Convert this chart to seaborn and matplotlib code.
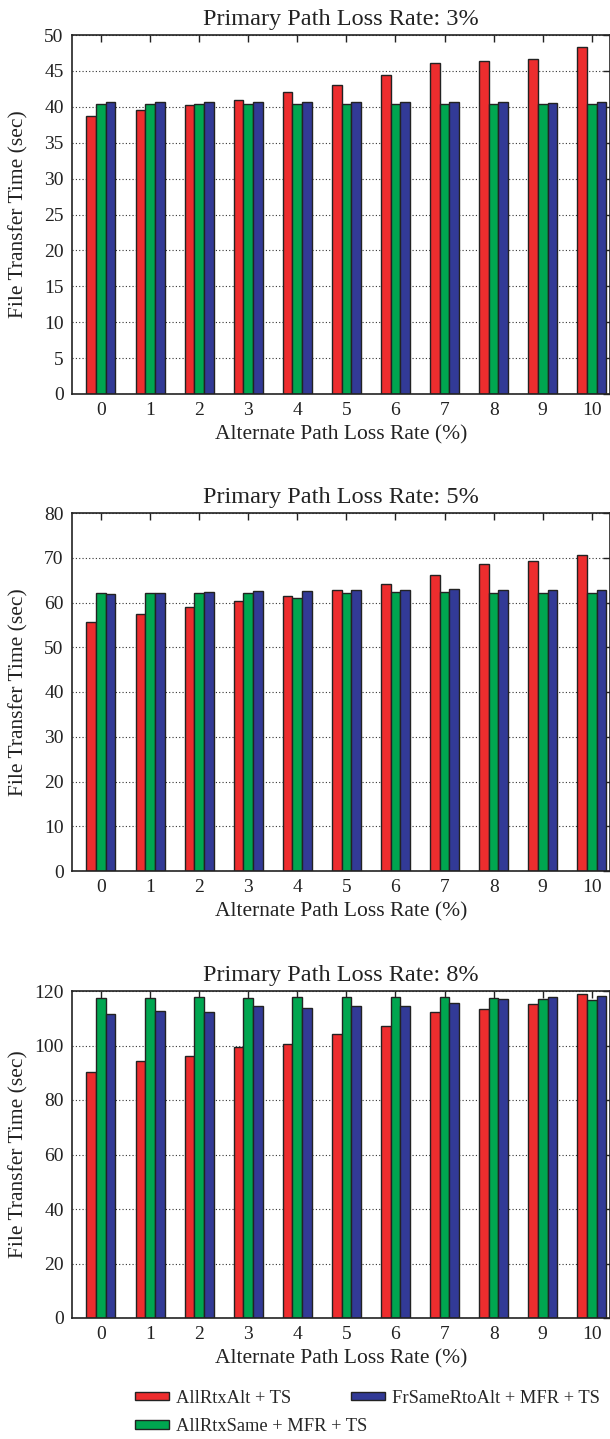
import numpy as np
import pandas as pd
import matplotlib
matplotlib.use("Agg")
import matplotlib.pyplot as plt
import seaborn as sns
from matplotlib.patches import Patch

loss_rates = [0, 1, 2, 3, 4, 5, 6, 7, 8, 9, 10]
schemes = ["AllRtxAlt + TS", "AllRtxSame + MFR + TS", "FrSameRtoAlt + MFR + TS"]
primary_titles = ["Primary Path Loss Rate: 3%", "Primary Path Loss Rate: 5%", "Primary Path Loss Rate: 8%"]

# Primary 3%
p3_alt = [38.7, 39.5, 40.2, 40.9, 42.1, 43.1, 44.4, 46.1, 46.4, 46.7, 48.3]
p3_same = [40.4, 40.4, 40.4, 40.4, 40.4, 40.4, 40.4, 40.4, 40.4, 40.4, 40.4]
p3_fr = [40.6, 40.6, 40.6, 40.6, 40.6, 40.6, 40.6, 40.6, 40.6, 40.5, 40.6]

# Primary 5%
p5_alt = [55.7, 57.4, 58.9, 60.4, 61.5, 62.9, 64.2, 66.1, 68.6, 69.3, 70.7]
p5_same = [62.1, 62.1, 62.1, 62.1, 61.1, 62.1, 62.4, 62.4, 62.2, 62.1, 62.2]
p5_fr = [61.9, 62.1, 62.3, 62.5, 62.6, 62.7, 62.9, 63.0, 62.9, 62.8, 62.7]

# Primary 8%
p8_alt = [90.3, 94.3, 96.1, 99.5, 100.7, 104.4, 107.0, 112.4, 113.4, 115.1, 118.9]
p8_same = [117.5, 117.5, 117.7, 117.5, 117.7, 117.7, 117.7, 117.9, 117.3, 117.1, 116.8]
p8_fr = [111.6, 112.8, 112.3, 114.4, 113.8, 114.4, 114.4, 115.6, 117.1, 117.9, 118.3]

y_limits = [50, 80, 120]
y_steps = [5, 10, 20]

colors = ["#ED2D2E", "#00A650", "#323A96"]
edge = "#222222"

sns.set_style("white")
plt.rcParams["font.family"] = ["Liberation Serif", "DejaVu Serif"]
plt.rcParams["font.size"] = 14

fig = plt.figure(figsize=(6.10, 14.39), dpi=100)
W, H = 610.0, 1439.0
left_px, right_px = 72.0, 609.5
panels_px = [(35, 394), (513, 871), (991, 1318)]

data_sets = [(p3_alt, p3_same, p3_fr), (p5_alt, p5_same, p5_fr), (p8_alt, p8_same, p8_fr)]

for i, ((top, bot), series) in enumerate(zip(panels_px, data_sets)):
    ax = fig.add_axes([left_px / W, 1 - bot / H, (right_px - left_px) / W, (bot - top) / H])
    rows = []
    for name, vals in zip(schemes, series):
        for lr, v in zip(loss_rates, vals):
            rows.append({"loss": str(lr), "time": v, "scheme": name})
    df = pd.DataFrame(rows)
    ax.set_axisbelow(True)
    ax.yaxis.grid(True, linestyle=(0, (1, 2)), color="#333333", linewidth=0.8)
    sns.barplot(data=df, x="loss", y="time", hue="scheme", hue_order=schemes,
                order=[str(l) for l in loss_rates], palette=colors, width=0.59,
                edgecolor=edge, linewidth=1.0, saturation=1, ax=ax, legend=False,
                errorbar=None)
    ax.set_ylim(0, y_limits[i])
    ax.set_yticks(np.arange(0, y_limits[i] + 0.1, y_steps[i]))
    ax.set_xlim(-0.59, 10.36)
    ax.tick_params(axis="both", direction="in", length=5, width=1, colors="#222222",
                   top=True, right=True, labelsize=14, pad=6)
    ax.tick_params(axis="both", labelcolor="#222222")
    for sp in ax.spines.values():
        sp.set_color("#222222")
        sp.set_linewidth(1.2)
        sp.set_visible(True)
    ax.set_xlabel("Alternate Path Loss Rate (%)", fontsize=15.5, labelpad=4, color="#222222")
    ax.set_ylabel("File Transfer Time (sec)", fontsize=15.5, color="#222222")
    ax.yaxis.set_label_coords((28 - left_px) / (right_px - left_px), 0.5)
    ax.set_title(primary_titles[i], fontsize=17.5, pad=7, color="#222222")

handles = [Patch(facecolor=c, edgecolor=edge, linewidth=1.0) for c in colors]
leg_kw = dict(loc="upper left", frameon=False, fontsize=13.3, handlelength=1.85,
              handleheight=0.37, labelspacing=0.6, handletextpad=0.4,
              borderpad=0.4)
fig.legend(handles[:2], schemes[:2], bbox_to_anchor=(118 / W, 1 - 1373 / H), **leg_kw)
fig.legend(handles[2:], schemes[2:], bbox_to_anchor=(334 / W, 1 - 1373 / H), **leg_kw)

fig.savefig("out.png", dpi=100)
